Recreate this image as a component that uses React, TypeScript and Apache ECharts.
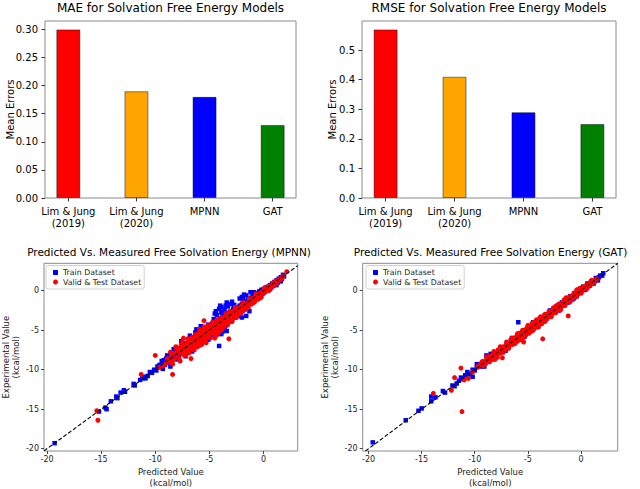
import React, { useEffect, useRef } from 'react';
import * as echarts from 'echarts';

const barCategories = ['Lim & Jung\n(2019)', 'Lim & Jung\n(2020)', 'MPNN', 'GAT'];
const barColors = ['#ff0000', '#ffa500', '#0000ff', '#008000'];
const maeValues = [0.30, 0.19, 0.18, 0.13];
const rmseValues = [0.57, 0.41, 0.29, 0.25];
const maeTicks = [0, 0.05, 0.1, 0.15, 0.2, 0.25, 0.3];
const rmseTicks = [0, 0.1, 0.2, 0.3, 0.4, 0.5];
const scatterTicks = [-20, -15, -10, -5, 0];

const mpnnTrain = [
  [-19.3,-19.3],[-15.2,-15.3],[-14.6,-14.8],[-14.5,-15.0],[-14.1,-14.0],[-13.6,-13.4],[-13.5,-13.6],[-13.2,-12.9],[-12.9,-12.6],[-12.8,-12.8],
  [-12.0,-11.8],[-11.9,-12.0],[-11.4,-11.3],[-11.2,-11.1],[-11.0,-10.9],[-10.9,-11.1],[-10.7,-10.8],[-10.5,-10.3],[-10.3,-10.4],[-10.1,-10.0],
  [-9.9,-10.1],[-9.8,-9.6],[-9.6,-9.4],[-9.5,-9.7],[-9.3,-9.1],[-9.2,-8.8],[-9.1,-9.4],[-9.0,-8.6],[-8.9,-9.1],[-8.8,-8.4],
  [-8.7,-8.9],[-8.6,-8.3],[-8.5,-8.7],[-8.4,-8.0],[-8.3,-7.4],[-8.2,-8.6],[-8.1,-7.9],[-8.0,-8.3],[-7.9,-7.6],[-7.8,-8.2],
  [-7.7,-7.3],[-7.6,-7.8],[-7.5,-7.0],[-7.4,-7.7],[-7.3,-7.2],[-7.2,-7.6],[-7.1,-6.7],[-7.0,-7.4],[-6.9,-6.4],[-6.8,-7.2],
  [-6.7,-6.2],[-6.6,-5.9],[-6.5,-7.0],[-6.4,-6.0],[-6.3,-6.8],[-6.2,-5.6],[-6.1,-6.6],[-6.0,-5.4],[-5.9,-6.4],[-5.8,-4.5],
  [-5.7,-5.3],[-5.6,-6.2],[-5.5,-5.0],[-5.4,-6.0],[-5.3,-4.8],[-5.2,-5.9],[-5.1,-4.3],[-5.0,-5.6],[-4.9,-4.5],[-4.8,-5.6],
  [-4.7,-4.1],[-4.6,-5.3],[-4.5,-3.9],[-4.4,-5.2],[-4.3,-3.8],[-4.2,-4.9],[-4.1,-7.0],[-4.1,-2.3],[-4.0,-1.9],[-3.9,-4.8],
  [-3.8,-3.2],[-3.7,-5.0],[-3.6,-3.0],[-3.5,-4.4],[-3.4,-1.5],[-3.3,-2.0],[-3.3,-4.1],[-3.2,-2.8],[-3.1,-3.9],[-3.0,-2.6],
  [-2.9,-3.6],[-2.8,-2.3],[-2.7,-3.4],[-2.6,-2.2],[-2.5,-3.2],[-2.4,-2.1],[-2.3,-2.9],[-2.2,-1.9],[-2.1,-2.7],[-2.0,-1.7],
  [-1.9,-2.5],[-1.8,-0.5],[-1.8,-1.5],[-1.7,-2.2],[-1.6,-1.3],[-1.5,-2.0],[-1.4,-1.1],[-1.3,-1.7],[-1.2,-0.9],[-1.1,-1.5],
  [-1.0,-0.7],[-0.9,-1.3],[-0.8,-0.5],[-0.7,-1.0],[-0.6,-0.3],[-0.5,-0.9],[-0.4,-0.1],[-0.3,-0.6],[-0.2,0.1],[-0.1,-0.4],
  [0.0,0.2],[0.1,-0.2],[0.2,0.4],[0.3,0.0],[0.4,0.5],[0.5,0.2],[0.6,0.7],[0.7,0.4],[0.8,0.9],[0.9,0.6],
  [1.0,1.1],[1.1,0.8],[1.2,1.3],[1.3,1.0],[1.4,1.5],[1.5,1.2],[1.6,1.7],[1.7,1.5],[1.8,2.0],[1.9,1.8],
  [-9.4,-8.9],[-8.9,-8.2],[-8.6,-9.2],[-7.9,-8.7],[-7.4,-6.6],[-6.9,-7.7],[-6.3,-5.3],[-5.9,-6.9],[-5.5,-4.6],[-5.1,-6.2],
  [-4.6,-3.6],[-4.4,-2.6],[-3.9,-2.1],[-3.8,-5.2],[-3.1,-1.7],[-2.7,-1.8],[-2.3,-3.2],[-1.9,-1.1],[-0.9,-0.2],[0.6,0.2],[1.2,0.7],[1.6,1.2],
  [-4.5,-2.9],[-4.3,-3.1],[-3.9,-2.7],[-3.6,-2.4],[-3.5,-1.9],[-2.9,-1.4],[-2.2,-1.0],[-2.0,-0.8],[-1.6,-0.6],[-1.2,-0.2],
  [-4.2,-5.4],[-3.9,-5.5],[-3.6,-4.9],[-3.4,-5.1],[-2.0,-3.4],[-1.6,-3.2],[-1.3,-2.6],[-6.2,-4.9],[-6.8,-5.7],[-7.6,-6.4],
  [-7.2,-8.3],[-6.6,-7.7],[-8.6,-9.6],[-9.3,-9.9]
];

const mpnnValidTest = [
  [-15.4,-15.2],[-15.3,-16.4],[-11.3,-10.6],[-10.0,-8.2],[-8.4,-10.6],[-9.6,-9.7],[-9.3,-9.5],[-9.0,-9.2],[-8.9,-8.6],[-8.7,-9.0],
  [-8.5,-8.3],[-8.3,-8.8],[-8.2,-7.9],[-8.1,-7.1],[-8.0,-8.4],[-7.9,-7.5],[-7.8,-8.6],[-7.4,-6.0],[-7.7,-7.9],[-7.6,-7.2],
  [-7.5,-7.7],[-7.4,-8.1],[-7.3,-6.9],[-7.2,-7.4],[-7.1,-7.8],[-7.0,-6.6],[-6.9,-7.1],[-6.8,-7.5],[-6.7,-8.6],[-6.7,-6.4],
  [-6.6,-6.9],[-6.5,-7.3],[-6.4,-6.1],[-6.3,-6.6],[-6.2,-7.0],[-6.1,-5.8],[-6.1,-6.1],[-6.0,-6.3],[-5.9,-6.7],[-5.9,-5.3],
  [-5.8,-5.7],[-5.7,-6.1],[-5.6,-6.5],[-5.5,-3.8],[-5.5,-5.3],[-5.4,-5.7],[-5.3,-6.1],[-5.3,-4.7],[-5.2,-5.1],[-5.1,-5.5],
  [-5.05,-4.9],[-5.0,-5.9],[-4.9,-4.6],[-4.8,-5.0],[-4.7,-5.4],[-4.6,-4.3],[-4.5,-4.7],[-4.4,-5.1],[-4.3,-5.6],[-4.3,-4.1],
  [-4.2,-4.4],[-4.1,-4.8],[-4.0,-3.7],[-3.9,-4.1],[-3.8,-4.5],[-3.7,-3.5],[-3.6,-3.8],[-3.5,-4.2],[-3.4,-3.2],[-3.3,-3.5],
  [-3.2,-6.1],[-3.2,-3.9],[-3.1,-3.0],[-3.0,-3.3],[-2.9,-3.6],[-2.8,-2.7],[-2.7,-3.0],[-2.6,-3.3],[-2.5,-2.4],[-2.4,-2.7],
  [-2.3,-3.0],[-2.2,-2.2],[-2.1,-2.4],[-2.0,-2.7],[-1.9,-1.9],[-1.8,-2.1],[-1.7,-2.4],[-1.6,-1.6],[-1.5,-1.8],[-1.4,-2.1],
  [-1.3,-1.3],[-1.2,-1.5],[-1.1,-1.7],[-1.0,-1.0],[-0.9,-1.2],[-0.8,-1.4],[-0.7,-0.7],[-0.6,-0.9],[-0.5,-1.1],[-0.4,-0.4],
  [-0.3,-0.6],[-0.2,-0.8],[-0.1,-0.1],[0.0,-0.3],[0.1,0.1],[0.2,-0.1],[0.3,0.3],[0.4,0.1],[0.5,0.5],[0.6,0.3],
  [0.7,0.7],[0.8,0.5],[0.9,0.9],[1.0,0.7],[1.1,1.1],[1.2,0.9],[1.3,1.3],[1.5,1.4],[1.7,1.6],[2.15,2.4],
  [-7.6,-6.8],[-7.3,-7.8],[-7.0,-7.0],[-6.8,-6.2],[-6.6,-7.4],[-6.4,-6.5],[-6.2,-5.5],[-6.0,-6.9],[-5.8,-5.1],[-5.8,-6.1],
  [-5.6,-5.0],[-5.6,-5.8],[-5.4,-5.1],[-5.4,-6.3],[-5.2,-4.6],[-5.0,-5.2],[-4.9,-6.0],[-4.8,-4.3],[-4.6,-4.9],[-4.5,-5.5],
  [-4.4,-4.0],[-4.2,-4.8],[-4.1,-3.6],[-4.0,-4.3],[-3.9,-5.0],[-3.8,-3.6],[-3.6,-4.3],[-3.5,-3.2],[-3.4,-3.6],[-3.3,-4.3],
  [-3.2,-2.9],[-3.0,-3.6],[-2.9,-2.9],[-2.7,-2.5],[-2.6,-2.9],[-2.4,-2.3],[-2.2,-2.6],[-2.0,-1.9],[-1.8,-1.8],[-1.6,-1.9],
  [-1.4,-1.6],[-1.2,-1.2],[-1.0,-1.3],[-0.8,-0.8],[-0.6,-0.6],[-0.4,-0.7],[-0.2,-0.3],[0.0,0.0],[0.2,0.2],[0.4,0.4],
  [0.6,0.5],[0.8,0.7],[1.0,0.9],[1.2,1.1],[1.4,1.3],[1.6,1.5],[1.8,1.8],
  [-8.6,-7.8],[-8.4,-9.3],[-8.0,-7.2],[-7.7,-8.9],[-7.5,-6.5],[-7.2,-8.2],[-7.0,-6.1],[-6.9,-7.9],[-6.6,-5.9],[-6.4,-7.5],
  [-6.3,-5.6],[-6.1,-7.1],[-5.9,-4.9],[-5.7,-6.8],[-5.5,-4.6],[-5.3,-6.6],[-5.1,-4.4],[-4.9,-5.3],[-4.7,-4.0],[-4.5,-6.0],
  [-4.3,-3.7],[-4.1,-5.2],[-3.9,-3.4],[-3.7,-4.7],[-3.5,-3.0],[-3.4,-4.0],[-3.1,-2.6],[-2.9,-3.9],[-2.6,-2.1],[-2.5,-3.4],
  [-2.1,-2.9],[-1.9,-1.5],[-1.5,-2.2],[-1.3,-1.0],[-0.9,-1.5],[-0.7,-0.4],[-0.3,-0.9],[0.1,0.3],[0.5,0.0],[0.9,1.0]
];

const gatTrain = [
  [-19.6,-19.2],[-16.5,-16.4],[-15.3,-15.2],[-15.0,-14.9],[-14.1,-14.0],[-14.1,-13.4],[-13.7,-13.5],[-13.0,-12.7],[-12.8,-12.9],[-12.1,-12.0],
  [-11.9,-12.1],[-11.7,-11.75],[-11.5,-11.4],[-11.3,-11.0],[-11.1,-11.2],[-10.9,-10.7],[-10.7,-10.3],[-10.6,-10.5],[-10.4,-10.6],[-10.2,-10.9],
  [-10.2,-10.0],[-10.0,-10.1],[-9.8,-9.7],[-9.6,-9.5],[-9.4,-9.6],[-9.2,-9.0],[-9.0,-9.2],[-8.9,-8.2],[-8.8,-8.8],[-8.6,-8.4],
  [-8.4,-8.7],[-8.2,-8.0],[-8.0,-8.3],[-7.8,-7.6],[-7.6,-7.9],[-7.4,-7.2],[-7.2,-7.5],[-7.0,-6.7],[-6.8,-7.1],[-6.6,-6.3],
  [-6.4,-6.7],[-6.2,-6.0],[-6.0,-6.3],[-5.9,-4.0],[-5.8,-5.5],[-5.6,-5.9],[-5.4,-5.1],[-5.2,-5.5],[-5.0,-4.7],[-4.8,-5.1],
  [-4.6,-4.3],[-4.4,-4.7],[-4.2,-3.9],[-4.0,-4.3],[-3.8,-3.5],[-3.6,-3.9],[-3.4,-3.1],[-3.2,-3.5],[-3.0,-2.7],[-2.8,-3.1],
  [-2.6,-2.3],[-2.4,-2.7],[-2.2,-1.9],[-2.0,-2.3],[-1.8,-1.5],[-1.6,-1.9],[-1.4,-1.1],[-1.2,-1.5],[-1.0,-0.7],[-0.8,-1.1],
  [-0.6,-0.3],[-0.4,-0.7],[-0.2,0.1],[0.0,-0.3],[0.2,0.5],[0.4,0.1],[0.6,0.9],[0.8,0.6],[1.0,1.2],[1.2,0.9],
  [1.4,1.6],[1.6,1.3],[1.8,1.9],[2.1,2.2],
  [-9.8,-9.3],[-9.1,-9.6],[-8.5,-8.0],[-7.9,-8.4],[-7.1,-7.6],[-6.5,-6.0],[-5.3,-5.8],[-4.5,-4.0],[-3.7,-4.1],[-2.9,-2.5],
  [-2.1,-2.5],[-1.5,-1.2],[-0.7,-1.0],[0.1,0.3],[0.5,0.3],[0.9,1.0],[1.3,1.2],[1.7,1.7],[2.0,1.9]
];

const gatValidTest = [
  [-13.9,-13.0],[-12.2,-12.6],[-11.9,-11.0],[-11.3,-9.8],[-11.2,-15.3],[-11.0,-11.3],[-10.6,-11.1],[-10.2,-10.3],[-9.7,-9.6],[-9.4,-9.2],
  [-9.1,-9.3],[-8.9,-8.8],[-8.7,-8.5],[-8.5,-8.7],[-8.3,-8.2],[-8.1,-8.7],[-8.1,-7.9],[-7.9,-8.0],[-7.7,-7.5],[-7.5,-7.7],
  [-7.4,-8.5],[-7.3,-7.1],[-7.1,-7.3],[-6.9,-6.7],[-6.7,-6.9],[-6.5,-6.3],[-6.3,-6.5],[-6.1,-5.9],[-6.0,-5.5],[-5.9,-6.1],
  [-5.7,-5.5],[-5.6,-6.2],[-5.5,-5.7],[-5.4,-6.5],[-5.3,-5.1],[-5.1,-5.3],[-5.0,-4.4],[-4.9,-4.7],[-4.7,-4.9],[-4.6,-5.1],
  [-4.5,-4.3],[-4.4,-4.0],[-4.3,-4.5],[-4.1,-3.9],[-4.0,-4.6],[-3.9,-4.1],[-3.8,-3.3],[-3.7,-3.5],[-3.6,-6.1],[-3.5,-3.7],
  [-3.4,-3.9],[-3.3,-3.1],[-3.1,-3.3],[-2.9,-2.7],[-2.7,-2.9],[-2.5,-2.3],[-2.4,-2.0],[-2.3,-2.5],[-2.1,-1.9],[-2.0,-2.5],
  [-1.9,-2.1],[-1.7,-1.5],[-1.5,-1.7],[-1.4,-0.9],[-1.3,-1.1],[-1.2,-3.2],[-1.1,-1.3],[-0.9,-0.7],[-0.7,-0.9],[-0.5,-0.3],
  [-0.4,0.1],[-0.3,-0.5],[-0.1,0.1],[0.1,-0.1],[0.3,0.5],[0.5,0.3],[0.7,0.9],[0.9,0.7],[1.1,1.2],[1.3,1.3],
  [-9.5,-9.4],[-9.3,-9.0],[-9.2,-9.5],[-9.0,-8.9],[-8.8,-9.0],[-8.6,-8.3],[-8.4,-8.6],[-8.2,-8.0],[-8.0,-8.3],[-7.8,-7.5],
  [-7.6,-7.9],[-7.4,-7.2],[-7.2,-7.5],[-7.0,-6.8],[-6.8,-7.1],[-6.6,-6.4],[-6.4,-6.8],[-6.2,-6.0],[-6.0,-6.4],[-5.8,-5.5],
  [-5.8,-6.0],[-5.6,-5.3],[-5.4,-5.9],[-5.2,-4.9],[-5.2,-5.6],[-5.0,-5.2],[-4.8,-4.5],[-4.8,-5.2],[-4.6,-4.7],[-4.4,-4.3],
  [-4.4,-4.8],[-4.2,-4.0],[-4.2,-4.5],[-4.0,-3.8],[-4.0,-4.2],[-3.8,-3.9],[-3.6,-3.4],[-3.6,-3.9],[-3.4,-3.3],[-3.2,-3.0],
  [-3.2,-3.5],[-3.0,-2.9],[-3.0,-3.2],[-2.8,-2.6],[-2.8,-3.0],[-2.6,-2.5],[-2.6,-2.8],[-2.4,-2.4],[-2.2,-2.0],[-2.2,-2.4],
  [-2.0,-2.0],[-1.8,-1.7],[-1.8,-2.0],[-1.6,-1.5],[-1.6,-1.8],[-1.4,-1.4],[-1.2,-1.0],[-1.2,-1.3],[-1.0,-0.9],[-1.0,-1.1],
  [-0.8,-0.8],[-0.6,-0.5],[-0.6,-0.7],[-0.4,-0.4],[-0.2,-0.1],[-0.2,-0.3],[0.0,0.0],[0.2,0.2],[0.4,0.3],[0.6,0.6],
  [0.8,0.8],[1.0,1.0],[1.2,1.1],[1.5,1.5],
  [-8.9,-8.4],[-8.6,-9.0],[-8.2,-7.7],[-7.9,-8.4],[-7.6,-7.1],[-7.3,-7.8],[-7.0,-6.5],[-6.8,-7.3],[-6.5,-6.0],[-6.2,-6.7],
  [-5.9,-5.4],[-5.7,-6.2],[-5.5,-5.0],[-5.3,-5.8],[-5.0,-4.6],[-4.9,-5.4],[-4.6,-4.1],[-4.5,-5.0],[-4.2,-3.7],[-4.1,-4.6],
  [-3.9,-3.5],[-3.7,-4.2],[-3.4,-3.0],[-3.3,-3.7],[-3.0,-2.6],[-2.8,-3.3],[-2.6,-2.2],[-2.4,-2.8],[-2.1,-1.7],[-1.9,-2.4],
  [-1.6,-1.2],[-1.5,-1.9],[-1.1,-0.8],[-1.0,-1.4],[-0.7,-0.4],[-0.5,-0.8],[-0.1,0.3],[0.0,-0.3],[0.4,0.6],[0.6,0.3],
  [1.0,1.3],[1.2,0.9],[1.4,1.4]
];

const FONT = 'DejaVu Sans';

export default function App() {
  const ref = useRef<HTMLDivElement>(null);

  useEffect(() => {
    if (!ref.current) return;
    const chart = echarts.init(ref.current, undefined, { renderer: 'svg' });

    const gridBase = { show: true, borderColor: '#8a8a8a', borderWidth: 1, backgroundColor: 'transparent', containLabel: false };

    const barXAxis = (gridIndex: number) => ({
      type: 'value', gridIndex, min: -0.3425, max: 3.3425,
      axisLine: { show: false, onZero: false }, splitLine: { show: false },
      axisTick: { show: true, customValues: [0, 1, 2, 3], length: 3.5, lineStyle: { color: '#333' } },
      axisLabel: {
        customValues: [0, 1, 2, 3],
        formatter: (v: number) => barCategories[Math.round(v)],
        fontSize: 10, fontFamily: FONT, color: '#000', margin: 7, lineHeight: 12,
      },
    });

    const barYAxis = (gridIndex: number, max: number, ticks: number[], digits: number, nameGap: number) => ({
      type: 'value', gridIndex, min: 0, max,
      axisLine: { show: false, onZero: false }, splitLine: { show: false },
      axisTick: { show: true, customValues: ticks, length: 3.5, lineStyle: { color: '#333' } },
      axisLabel: {
        customValues: ticks,
        formatter: (v: number) => v.toFixed(digits),
        fontSize: 10, fontFamily: FONT, color: '#000', margin: 7,
      },
      name: 'Mean Errors', nameLocation: 'middle', nameRotate: 90, nameGap, nameMoveOverlap: false,
      nameTextStyle: { fontSize: 10, fontFamily: FONT, color: '#000' },
    });

    const scX = (gridIndex: number, min: number, max: number) => ({
      type: 'value', gridIndex, min, max,
      axisLine: { show: false, onZero: false }, splitLine: { show: false },
      axisTick: { show: true, customValues: scatterTicks, length: 3, lineStyle: { color: '#444' } },
      axisLabel: {
        customValues: scatterTicks, formatter: (v: number) => String(v),
        fontSize: 8, fontFamily: FONT, color: '#222', margin: 4,
      },
      name: 'Predicted Value\n(kcal/mol)', nameLocation: 'middle', nameGap: 15, nameMoveOverlap: false,
      nameTextStyle: { fontSize: 8.5, fontFamily: FONT, color: '#222', lineHeight: 11, verticalAlign: 'top' },
    });

    const scY = (gridIndex: number, min: number, max: number) => ({
      type: 'value', gridIndex, min, max,
      axisLine: { show: false, onZero: false }, splitLine: { show: false },
      axisTick: { show: true, customValues: scatterTicks, length: 3, lineStyle: { color: '#444' } },
      axisLabel: {
        customValues: scatterTicks, formatter: (v: number) => String(v),
        fontSize: 8, fontFamily: FONT, color: '#222', margin: 5,
      },
      name: 'Experimental Value\n(kcal/mol)', nameLocation: 'middle', nameRotate: 90, nameGap: 23, nameMoveOverlap: false,
      nameTextStyle: { fontSize: 8.5, fontFamily: FONT, color: '#222', lineHeight: 10 },
    });

    const barSeries = (idx: number, values: number[]) => ({
      type: 'bar', xAxisIndex: idx, yAxisIndex: idx, barWidth: 24,
      data: values.map((v, i) => ({ value: [i, v], itemStyle: { color: barColors[i] } })),
      itemStyle: { borderColor: 'rgba(0,0,0,0.45)', borderWidth: 1 },
    });

    const trainSeries = (idx: number, data: number[][]) => ({
      type: 'scatter', name: 'Train Dataset', xAxisIndex: idx, yAxisIndex: idx,
      symbol: 'rect', symbolSize: 4.5, data, itemStyle: { color: '#0000ff', opacity: 1 }, z: 2,
    });
    const validSeries = (idx: number, data: number[][]) => ({
      type: 'scatter', name: 'Valid & Test Dataset', xAxisIndex: idx, yAxisIndex: idx,
      symbol: 'circle', symbolSize: 5, data, itemStyle: { color: '#ff0000', opacity: 1 }, z: 3,
    });
    const diagSeries = (idx: number, lo: number, hi: number) => ({
      type: 'line', name: 'diag', xAxisIndex: idx, yAxisIndex: idx, symbol: 'none',
      data: [[lo, lo], [hi, hi]], lineStyle: { color: '#000', width: 1.1, type: [4, 2] }, z: 4, silent: true,
    });

    const legendBase = {
      orient: 'vertical', top: 265.5, itemWidth: 5, itemHeight: 5, itemGap: 1.5,
      data: ['Train Dataset', 'Valid & Test Dataset'],
      textStyle: { fontSize: 7.8, fontFamily: FONT, color: '#222' },
      padding: [3, 3, 3, 7], borderColor: '#d0d0d0', borderWidth: 1, borderRadius: 2,
      backgroundColor: '#fff', selectedMode: false,
    };

    const titleText = (text: string, x: number, y: number, size: number) => ({
      type: 'text', x, y,
      style: { text, fontSize: size, fontFamily: FONT, fontWeight: 'normal', fill: '#000', align: 'center', verticalAlign: 'middle' },
    });

    chart.setOption({
      animation: false,
      backgroundColor: '#fff',
      grid: [
        { ...gridBase, left: 45, top: 21, width: 251, height: 177 },
        { ...gridBase, left: 362, top: 21, width: 254, height: 177 },
        { ...gridBase, left: 42.7, top: 263.3, width: 255, height: 190 },
        { ...gridBase, left: 362.7, top: 263.3, width: 255, height: 190 },
      ],
      xAxis: [barXAxis(0), barXAxis(1), scX(2, -20.28, 3.16), scX(3, -20.55, 3.46)],
      yAxis: [
        barYAxis(0, 0.315, maeTicks, 2, 30),
        barYAxis(1, 0.5985, rmseTicks, 1, 25),
        scY(2, -20.29, 3.46),
        scY(3, -20.29, 3.46),
      ],
      legend: [
        { ...legendBase, left: 46 },
        { ...legendBase, left: 366 },
      ],
      graphic: [
        titleText('MAE for Solvation Free Energy Models', 170.5, 8, 12),
        titleText('RMSE for Solvation Free Energy Models', 489, 8, 12),
        titleText('Predicted Vs. Measured Free Solvation Energy (MPNN)', 169, 252.3, 10.5),
        titleText('Predicted Vs. Measured Free Solvation Energy (GAT)', 490.5, 252.3, 10.5),
      ],
      series: [
        barSeries(0, maeValues),
        barSeries(1, rmseValues),
        trainSeries(2, mpnnTrain),
        validSeries(2, mpnnValidTest),
        diagSeries(2, -20.28, 3.16),
        trainSeries(3, gatTrain),
        validSeries(3, gatValidTest),
        diagSeries(3, -20.29, 3.46),
      ],
    });

    return () => chart.dispose();
  }, []);

  return (
    <div
      ref={ref}
      style={{ position: 'fixed', left: 0, top: 0, width: 640, height: 489, background: '#fff' }}
    />
  );
}
